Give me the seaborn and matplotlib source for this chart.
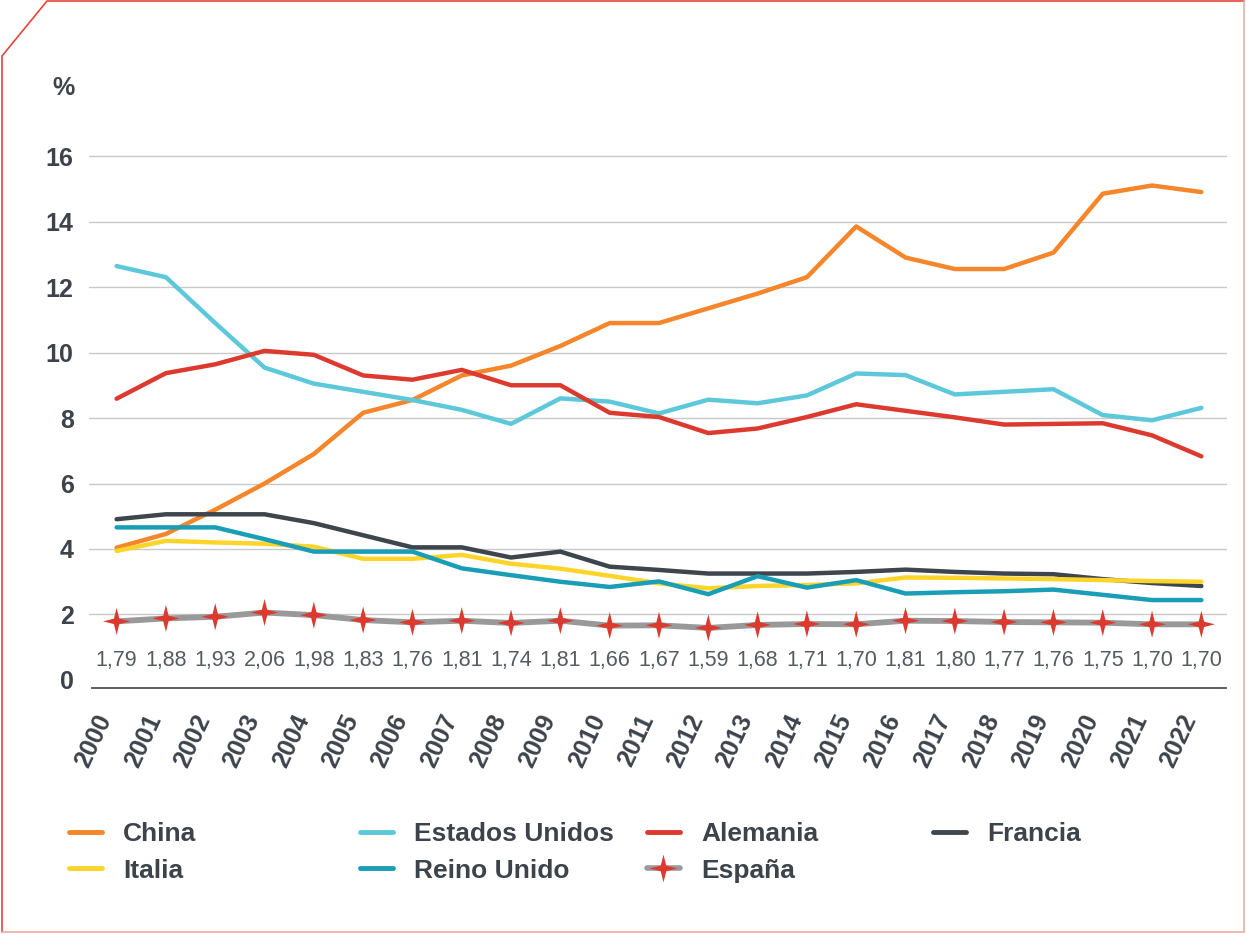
import numpy as np
import pandas as pd
import matplotlib.pyplot as plt
from matplotlib.path import Path
from matplotlib.lines import Line2D
import seaborn as sns

# cuota (%) por año
anios = [str(a) for a in range(2000, 2023)]
china = [4.04, 4.46, 5.20, 6.00, 6.90, 8.16, 8.55, 9.30, 9.60, 10.20, 10.90, 10.90,
         11.35, 11.80, 12.30, 13.85, 12.90, 12.55, 12.55, 13.05, 14.85, 15.10, 14.90]
eeuu = [12.64, 12.30, 10.90, 9.54, 9.05, 8.80, 8.55, 8.25, 7.82, 8.60, 8.50, 8.14,
        8.56, 8.45, 8.69, 9.36, 9.31, 8.72, 8.80, 8.88, 8.09, 7.93, 8.31]
alemania = [8.59, 9.37, 9.64, 10.05, 9.93, 9.30, 9.17, 9.47, 9.00, 9.00, 8.16, 8.03,
            7.54, 7.68, 8.03, 8.42, 8.22, 8.02, 7.80, 7.82, 7.84, 7.47, 6.83]
francia = [4.91, 5.06, 5.06, 5.06, 4.79, 4.42, 4.05, 4.05, 3.74, 3.92, 3.46, 3.36,
           3.25, 3.25, 3.25, 3.30, 3.37, 3.30, 3.25, 3.23, 3.08, 2.96, 2.87]
italia = [3.94, 4.25, 4.20, 4.16, 4.07, 3.70, 3.70, 3.82, 3.55, 3.40, 3.18, 2.95,
          2.80, 2.87, 2.90, 2.95, 3.13, 3.12, 3.10, 3.08, 3.05, 3.02, 3.00]
reino_unido = [4.66, 4.66, 4.66, 4.30, 3.92, 3.92, 3.92, 3.41, 3.20, 3.00, 2.84, 3.01,
               2.62, 3.17, 2.82, 3.05, 2.64, 2.68, 2.71, 2.76, 2.60, 2.44, 2.44]
espana = [1.79, 1.88, 1.93, 2.06, 1.98, 1.83, 1.76, 1.81, 1.74, 1.81, 1.66, 1.67,
          1.59, 1.68, 1.71, 1.70, 1.81, 1.80, 1.77, 1.76, 1.75, 1.70, 1.70]

series = {'China': china, 'Estados Unidos': eeuu, 'Alemania': alemania,
          'Francia': francia, 'Italia': italia, 'Reino Unido': reino_unido}
colores = {'China': '#f5862b', 'Estados Unidos': '#5cc8d9', 'Alemania': '#dc3a2f',
           'Francia': '#3e454d', 'Italia': '#fdd52a', 'Reino Unido': '#1a9db6',
           'España': '#999999'}
rojo = '#dc3a2f'
texto = '#3d434b'

df = pd.DataFrame([(i, pais, v) for pais, vals in series.items() for i, v in enumerate(vals)],
                  columns=['idx', 'pais', 'valor'])

sns.set_theme(style='white')
plt.rcParams['font.family'] = ['Liberation Sans', 'DejaVu Sans']

W, H = 1246, 934
fig = plt.figure(figsize=(W / 100, H / 100), dpi=100)
ax = fig.add_axes([89 / W, (H - 688) / H, (1227 - 89) / W, (688 - 149.5) / H])

sns.lineplot(data=df, x='idx', y='valor', hue='pais', palette=colores,
             hue_order=['China', 'Estados Unidos', 'Alemania', 'Francia', 'Italia', 'Reino Unido'],
             linewidth=3.2, legend=False, ax=ax)

# España: línea gris con estrellas rojas
estrella = Path([(0, 1), (0.2, 0.2), (1, 0), (0.2, -0.2), (0, -1), (-0.2, -0.2),
                 (-1, 0), (-0.2, 0.2), (0, 1)],
                [Path.MOVETO] + [Path.LINETO] * 7 + [Path.CLOSEPOLY])
sns.lineplot(x=range(len(espana)), y=espana, color=colores['España'], linewidth=4.2, ax=ax)
sns.scatterplot(x=range(len(espana)), y=espana, marker=estrella, s=380, color=rojo,
                edgecolor='none', zorder=5, ax=ax)
for i, v in enumerate(espana):
    ax.text(i, 0.6, f'{v:.2f}'.replace('.', ','), ha='center', va='center',
            fontsize=15.5, color='#555b62')

ax.set_xlim(-0.56, 22.52)
ax.set_ylim(-0.245, 16.2)
ax.set_yticks(range(0, 17, 2))
ax.set_yticklabels([str(v) for v in range(0, 17, 2)], fontsize=18, fontweight='bold', color=texto)
ax.set_xticks(range(len(anios)))
ax.set_xticklabels(anios, rotation=65, ha='right', va='top', fontsize=18,
                   fontweight='bold', color=texto)
ax.set_xticks(np.arange(-0.5, 23, 1), minor=True)
ax.tick_params(axis='y', length=0, pad=11)
ax.tick_params(axis='x', which='major', length=0, pad=16)
ax.tick_params(axis='x', which='minor', direction='in', length=11, width=1.2, color='#4b5057')
ax.set_xlabel('')
ax.set_ylabel('')

ax.grid(axis='y', color='#c9c9c9', linewidth=1)
ax.yaxis.get_gridlines()[0].set_visible(False)
for s in ['left', 'top', 'right']:
    ax.spines[s].set_visible(False)
ax.spines['bottom'].set_color('#4b5057')
ax.spines['bottom'].set_linewidth(1.3)
ax.spines['bottom'].set_bounds(-0.5, 22.5)

fig.text(52 / W, 1 - 88 / H, '%', fontsize=18, fontweight='bold', color=texto, va='center')

# leyenda en cuatro columnas
columnas = [(69, ['China', 'Italia']), (360, ['Estados Unidos', 'Reino Unido']),
            (647, ['Alemania', 'España']), (933, ['Francia'])]
for x0, nombres in columnas:
    handles = []
    for n in nombres:
        if n == 'España':
            handles.append(Line2D([], [], color=colores[n], lw=4, marker=estrella,
                                  markersize=20, markerfacecolor=rojo, markeredgecolor='none'))
        else:
            handles.append(Line2D([], [], color=colores[n], lw=3.5))
    leg = fig.legend(handles, nombres, loc='upper left', bbox_to_anchor=(x0 / W, 1 - 822 / H),
                     frameon=False, borderpad=0, borderaxespad=0, handlelength=1.25,
                     handletextpad=0.8, labelspacing=0.48,
                     prop={'size': 19, 'weight': 'bold'})
    for t in leg.get_texts():
        t.set_color(texto)

# marco con esquina recortada
def fx(px):
    return px / W

def fy(py):
    return 1 - py / H

fig.add_artist(Line2D([fx(2), fx(2), fx(47), fx(1244)], [fy(932), fy(56), fy(1), fy(1)],
                      color='#e5453b', lw=1.2))
fig.add_artist(Line2D([fx(1244), fx(1244), fx(2)], [fy(1), fy(932), fy(932)],
                      color='#f0aaa3', lw=1.2))

fig.savefig('out.png', dpi=100)
